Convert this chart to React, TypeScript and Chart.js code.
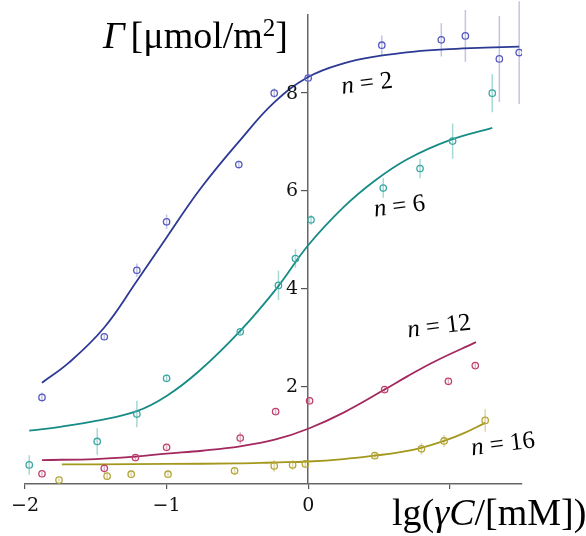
import React, { useEffect, useRef } from "react";
import { Chart, registerables } from "chart.js";

Chart.register(...registerables);

// ---- Data ----
const xTicks = [-2, -1, 0, 1];
const yTicks = [2, 4, 6, 8];

// n = 2
const n2X = [-1.88, -1.44, -1.21, -1.0, -0.49, -0.24, 0.0, 0.52, 0.94, 1.11, 1.35, 1.49];
const n2Y = [1.77, 3.01, 4.37, 5.36, 6.53, 7.99, 8.3, 8.97, 9.08, 9.16, 8.69, 8.82];
const n2Err = [0.1, 0.05, 0.14, 0.15, 0.08, 0.1, 0.08, 0.2, 0.34, 0.53, 0.88, 1.05];
const n2FitX = [-1.88, -1.69, -1.44, -1.21, -1.0, -0.76, -0.48, -0.24, 0, 0.25, 0.5, 0.75, 1.0, 1.25, 1.49];
const n2FitY = [2.07, 2.48, 3.2, 4.15, 5.04, 6.04, 7.03, 7.8, 8.32, 8.6, 8.75, 8.84, 8.89, 8.92, 8.94];

// n = 6
const n6X = [-1.97, -1.49, -1.21, -1.0, -0.48, -0.21, -0.09, 0.02, 0.53, 0.79, 1.02, 1.3];
const n6Y = [0.39, 0.87, 1.43, 2.16, 3.11, 4.06, 4.61, 5.4, 6.05, 6.45, 7.01, 7.99];
const n6Err = [0.2, 0.27, 0.27, 0.08, 0.05, 0.3, 0.19, 0.1, 0.2, 0.2, 0.36, 0.39];
const n6FitX = [-1.97, -1.75, -1.5, -1.21, -1.0, -0.77, -0.48, -0.22, 0, 0.25, 0.47, 0.7, 1.0, 1.3];
const n6FitY = [1.09, 1.17, 1.29, 1.49, 1.8, 2.31, 3.13, 4.01, 4.88, 5.66, 6.2, 6.64, 7.03, 7.28];

// n = 12
const n12X = [-1.88, -1.44, -1.22, -1.0, -0.48, -0.23, 0.01, 0.54, 0.99, 1.18];
const n12Y = [0.21, 0.32, 0.54, 0.75, 0.94, 1.48, 1.7, 1.93, 2.1, 2.42];
const n12Err = [0.04, 0.09, 0.05, 0.05, 0.12, 0.05, 0.05, 0.05, 0.05, 0.05];
const n12FitX = [-1.88, -1.5, -1.22, -1.0, -0.75, -0.48, -0.23, 0, 0.25, 0.54, 0.7, 0.89, 1.185];
const n12FitY = [0.49, 0.51, 0.56, 0.62, 0.68, 0.77, 0.91, 1.13, 1.46, 1.93, 2.2, 2.5, 2.9];

// n = 16
const n16X = [-1.76, -1.42, -1.25, -0.99, -0.52, -0.24, -0.11, -0.02, 0.47, 0.8, 0.96, 1.25];
const n16Y = [0.08, 0.16, 0.2, 0.2, 0.27, 0.37, 0.39, 0.41, 0.58, 0.72, 0.88, 1.3];
const n16Err = [0.03, 0.06, 0.04, 0.04, 0.08, 0.12, 0.1, 0.08, 0.07, 0.12, 0.12, 0.23];
const n16FitX = [-1.74, -1.5, -1.0, -0.5, -0.25, 0, 0.25, 0.47, 0.65, 0.8, 0.96, 1.1, 1.25];
const n16FitY = [0.4, 0.4, 0.41, 0.42, 0.44, 0.46, 0.51, 0.58, 0.65, 0.74, 0.88, 1.04, 1.25];

// curve labels
const labelNums = ["2", "6", "12", "16"];
const labelX = [0.24, 0.47, 0.706, 1.157];
const labelY = [7.98, 5.47, 3.0, 0.59];

const SERIF = '"Liberation Serif", "Times New Roman", serif';
const TICKFONT = '"DejaVu Serif", serif';

const zip = (xs: number[], ys: number[]) => xs.map((x, i) => ({ x, y: ys[i] }));

const series = [
  { px: n2X, py: n2Y, err: n2Err, fx: n2FitX, fy: n2FitY, line: "#2d3a94", pt: "#5659bd", eb: "#c3c4e6" },
  { px: n6X, py: n6Y, err: n6Err, fx: n6FitX, fy: n6FitY, line: "#178b86", pt: "#3aa7a3", eb: "#a6d8d4" },
  { px: n12X, py: n12Y, err: n12Err, fx: n12FitX, fy: n12FitY, line: "#a3285e", pt: "#c0406f", eb: "#e2b3c6" },
  { px: n16X, py: n16Y, err: n16Err, fx: n16FitX, fy: n16FitY, line: "#a4981c", pt: "#b3a435", eb: "#ddd6a6" },
];

type Run = { t: string; italic?: boolean; size: number; dy?: number; gap?: number };

function drawRuns(ctx: CanvasRenderingContext2D, x: number, y: number, runs: Run[]) {
  let cx = x;
  for (const r of runs) {
    ctx.font = `${r.italic ? "italic " : ""}${r.size}px ${SERIF}`;
    ctx.fillText(r.t, cx, y + (r.dy || 0));
    cx += ctx.measureText(r.t).width + (r.gap || 0);
  }
}

const fmt = (v: number) => (v < 0 ? "\u2212" + Math.abs(v) : String(v));

const errorBarPlugin = {
  id: "errorBars",
  beforeDatasetsDraw(chart: any) {
    const ctx = chart.ctx;
    const xs = chart.scales.x;
    const ys = chart.scales.y;
    ctx.save();
    ctx.lineWidth = 1.5;
    series.forEach((s) => {
      ctx.strokeStyle = s.eb;
      s.px.forEach((xv, i) => {
        const px = xs.getPixelForValue(xv);
        const y1 = ys.getPixelForValue(s.py[i] - s.err[i]);
        const y2 = ys.getPixelForValue(s.py[i] + s.err[i]);
        ctx.beginPath();
        ctx.moveTo(px, y1);
        ctx.lineTo(px, y2);
        ctx.stroke();
      });
    });
    ctx.restore();
  },
};

const textPlugin = {
  id: "texts",
  afterDraw(chart: any) {
    const ctx = chart.ctx;
    const xs = chart.scales.x;
    const ys = chart.scales.y;
    ctx.save();
    ctx.fillStyle = "#111";
    // y tick labels, left of the crossing axis
    ctx.font = `19px ${TICKFONT}`;
    ctx.textAlign = "right";
    ctx.textBaseline = "middle";
    const axisX = xs.getPixelForValue(0);
    yTicks.forEach((v) => {
      ctx.fillText(fmt(v), axisX - 10, ys.getPixelForValue(v) + 1);
    });
    ctx.fillStyle = "#000";
    ctx.textBaseline = "alphabetic";
    ctx.textAlign = "left";
    // y axis title
    drawRuns(ctx, 103, 48, [
      { t: "Γ", italic: true, size: 38, gap: 6 },
      { t: "[μmol/m", size: 38 },
      { t: "2", size: 25, dy: -12 },
      { t: "]", size: 38 },
    ]);
    // x axis title
    drawRuns(ctx, 392, 525, [
      { t: "lg(", size: 38 },
      { t: "γC", italic: true, size: 38 },
      { t: "/[mM])", size: 38 },
    ]);
    // curve labels
    labelNums.forEach((num, i) => {
      const px = xs.getPixelForValue(labelX[i]);
      const py = ys.getPixelForValue(labelY[i]);
      ctx.save();
      ctx.translate(px, py);
      ctx.rotate((-7 * Math.PI) / 180);
      drawRuns(ctx, 0, 0, [
        { t: "n", italic: true, size: 25 },
        { t: " = " + num, size: 25 },
      ]);
      ctx.restore();
    });
    ctx.restore();
  },
};

export default function App() {
  const ref = useRef<HTMLCanvasElement | null>(null);
  useEffect(() => {
    if (!ref.current) return;
    const datasets: any[] = [];
    series.forEach((s) => {
      datasets.push({
        data: zip(s.px, s.py),
        showLine: false,
        pointRadius: 3.2,
        pointBorderWidth: 1.3,
        pointBackgroundColor: "rgba(255,255,255,0)",
        pointBorderColor: s.pt,
        borderColor: s.pt,
      });
    });
    series.forEach((s) => {
      datasets.push({
        data: zip(s.fx, s.fy),
        showLine: true,
        pointRadius: 0,
        borderWidth: 1.8,
        borderColor: s.line,
        backgroundColor: s.line,
        tension: 0.4,
        fill: false,
      });
    });
    const tickFont = { family: TICKFONT, size: 19 };
    const chart = new Chart(ref.current, {
      type: "scatter",
      data: { datasets },
      plugins: [errorBarPlugin, textPlugin],
      options: {
        animation: false,
        responsive: false,
        devicePixelRatio: 1,
        layout: { padding: { left: 25, right: 64, top: 12, bottom: 0 } },
        plugins: { legend: { display: false }, tooltip: { enabled: false } },
        scales: {
          x: {
            type: "linear",
            position: "bottom",
            min: -2,
            max: 1.51,
            afterBuildTicks: (s: any) => {
              s.ticks = xTicks.map((v) => ({ value: v }));
            },
            afterFit: (s: any) => {
              s.height = 52;
            },
            ticks: {
              autoSkip: false,
              maxRotation: 0,
              padding: 6,
              color: "#111",
              font: tickFont,
              callback: (v: any) => (v === 1 ? "" : fmt(Number(v))),
            },
            grid: { display: true, drawOnChartArea: false, drawTicks: true, tickLength: 5, color: "#555", lineWidth: 1.2 },
            border: { display: true, color: "#666", width: 1.5 },
          },
          y: {
            type: "linear",
            position: { x: 0 } as any,
            min: 0,
            max: 9.6,
            afterBuildTicks: (s: any) => {
              s.ticks = yTicks.map((v) => ({ value: v }));
            },
            ticks: {
              color: "#111",
              font: tickFont,
              callback: () => "",
            },
            grid: { display: true, drawOnChartArea: false, drawTicks: true, tickLength: 6, color: "#555", lineWidth: 1.2 },
            border: { display: true, color: "#666", width: 1.5 },
          },
        },
      } as any,
    });
    return () => chart.destroy();
  }, []);
  return (
    <div style={{ position: "absolute", left: 0, top: 0, width: 586, height: 536, background: "#fff" }}>
      <canvas ref={ref} width={586} height={536} style={{ display: "block" }} />
    </div>
  );
}
